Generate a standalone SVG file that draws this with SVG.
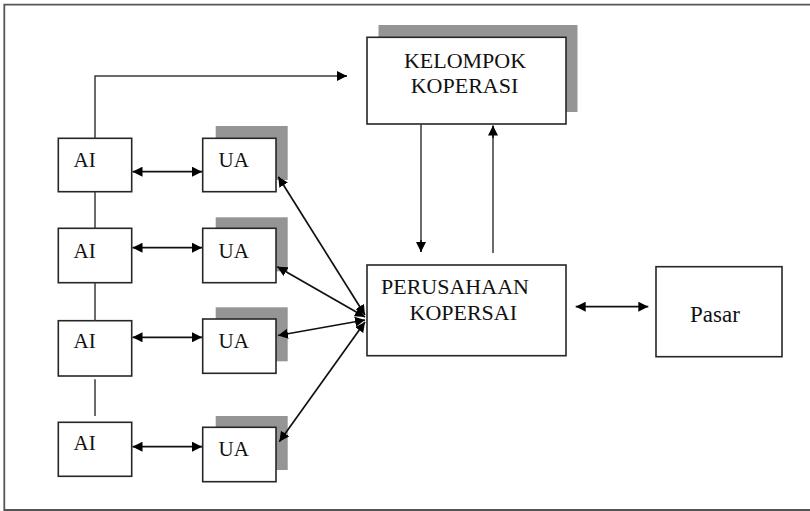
<svg xmlns="http://www.w3.org/2000/svg" width="810" height="511" viewBox="0 0 810 511">
<style>
.box{fill:#fff;stroke:#262626;stroke-width:1.6}
.shadow{fill:#959595}
text{font-family:"Liberation Serif","Times New Roman",Tinos,"DejaVu Serif",serif;fill:#111}
.s21{font-size:21px}
.s22{font-size:22px}
.s23{font-size:23px}
.ln{fill:none;stroke:#111;stroke-width:1.7}
.thin{fill:none;stroke:#3a3a3a;stroke-width:1.5}
</style>
<defs>
<marker id="ah" viewBox="0 0 10 10" refX="10" refY="5" markerWidth="10" markerHeight="10" markerUnits="userSpaceOnUse" orient="auto-start-reverse">
<path d="M0,0 L10,5 L0,10 z" fill="#000"/>
</marker>
</defs>
<rect width="810" height="511" fill="#fff"/>
<path d="M812,4.7 H4.3 V510 H812" fill="none" stroke="#555" stroke-width="1.8"/>

<g id="kelompok">
<rect class="shadow" x="378.5" y="25" width="199" height="87"/>
<rect class="box" x="367" y="37.3" width="199" height="86.7"/>
<text class="s22" x="465" y="67.7" text-anchor="middle" font-family="Liberation Serif, serif">KELOMPOK</text>
<text class="s22" x="464.5" y="92.7" text-anchor="middle" font-family="Liberation Serif, serif">KOPERASI</text>
</g>

<g id="perusahaan">
<rect class="box" x="367" y="265" width="199" height="90.7"/>
<text class="s22" x="381" y="294.3" font-family="Liberation Serif, serif">PERUSAHAAN</text>
<text class="s22" x="409.5" y="320" font-family="Liberation Serif, serif">KOPERSAI</text>
</g>

<g id="pasar">
<rect class="box" x="656" y="266.7" width="126" height="90"/>
<text class="s23" x="690" y="322.3" font-family="Liberation Serif, serif">Pasar</text>
</g>

<g id="ai1">
<rect class="box" x="58.3" y="138.3" width="73.4" height="53.4"/>
<text class="s21" x="73.5" y="166.7" font-family="Liberation Serif, serif">AI</text>
</g>
<g id="ai2">
<rect class="box" x="58.3" y="228.3" width="73.4" height="54.4"/>
<text class="s21" x="73.5" y="257.7" font-family="Liberation Serif, serif">AI</text>
</g>
<g id="ai3">
<rect class="box" x="58.3" y="320.7" width="73.4" height="55.3"/>
<text class="s21" x="73.5" y="348.3" font-family="Liberation Serif, serif">AI</text>
</g>
<g id="ai4">
<rect class="box" x="58.3" y="422.3" width="73.4" height="54"/>
<text class="s21" x="73.5" y="450" font-family="Liberation Serif, serif">AI</text>
</g>

<g id="ua1">
<rect class="shadow" x="215.7" y="126" width="72" height="54"/>
<rect class="box" x="202.7" y="138.3" width="73.3" height="53.4"/>
<text class="s21" x="218.5" y="166.7" font-family="Liberation Serif, serif">UA</text>
</g>
<g id="ua2">
<rect class="shadow" x="215.7" y="217.3" width="72" height="54"/>
<rect class="box" x="202.7" y="228.3" width="73.3" height="54.4"/>
<text class="s21" x="218.5" y="257.7" font-family="Liberation Serif, serif">UA</text>
</g>
<g id="ua3">
<rect class="shadow" x="215.7" y="307.3" width="72" height="54"/>
<rect class="box" x="202.7" y="319" width="73.3" height="54.3"/>
<text class="s21" x="218.5" y="348" font-family="Liberation Serif, serif">UA</text>
</g>
<g id="ua4">
<rect class="shadow" x="215.7" y="416" width="72" height="54"/>
<rect class="box" x="202.7" y="427.3" width="73.3" height="54.4"/>
<text class="s21" x="218.5" y="455.7" font-family="Liberation Serif, serif">UA</text>
</g>

<g id="connectors">
<path class="thin" d="M95,138.3 V76 H340" />
<path class="ln" d="M338,76 H347" marker-end="url(#ah)"/>
<path class="thin" d="M95,191.7 V228.3"/>
<path class="thin" d="M95,282.7 V320.7"/>
<path class="thin" d="M95,379.3 V416"/>

<path class="ln" d="M132.5,171.7 H202" marker-start="url(#ah)" marker-end="url(#ah)"/>
<path class="ln" d="M132.5,247.7 H202" marker-start="url(#ah)" marker-end="url(#ah)"/>
<path class="ln" d="M132.5,337.3 H202" marker-start="url(#ah)" marker-end="url(#ah)"/>
<path class="ln" d="M132.5,446.7 H202" marker-start="url(#ah)" marker-end="url(#ah)"/>

<path class="ln" d="M365,315 L278.3,176.7" marker-start="url(#ah)" marker-end="url(#ah)"/>
<path class="ln" d="M365,317 L277.3,266.7" marker-start="url(#ah)" marker-end="url(#ah)"/>
<path class="ln" d="M365,320 L278,335.5" marker-start="url(#ah)" marker-end="url(#ah)"/>
<path class="ln" d="M365,322 L279.3,441.7" marker-start="url(#ah)" marker-end="url(#ah)"/>

<path class="thin" d="M421,124 V244"/>
<path class="ln" d="M421,240 V252" marker-end="url(#ah)"/>
<path class="thin" d="M493,253 V134"/>
<path class="ln" d="M493,138 V125.5" marker-end="url(#ah)"/>

<path class="ln" d="M575.7,306.7 H648.3" marker-start="url(#ah)" marker-end="url(#ah)"/>
</g>
</svg>
